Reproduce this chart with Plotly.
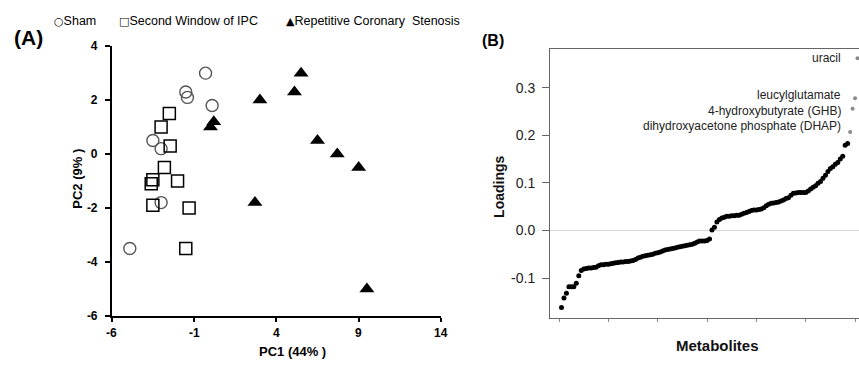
import plotly.graph_objects as go

# ---------------- Panel A data (PCA scores) ----------------
sham_pc1 = [-0.3, -1.5, -1.4, 0.1, -3.5, -3.0, -3.0, -4.9]
sham_pc2 = [3.0, 2.3, 2.1, 1.8, 0.5, 0.2, -1.8, -3.5]

ipc_pc1 = [-2.5, -3.0, -2.45, -2.8, -2.0, -3.5, -3.6, -3.5, -1.3, -1.5]
ipc_pc2 = [1.5, 1.0, 0.3, -0.5, -1.0, -0.95, -1.1, -1.9, -2.0, -3.5]

rcs_pc1 = [0.0, 0.2, 3.0, 5.5, 5.1, 6.5, 7.7, 9.0, 2.7, 9.5]
rcs_pc2 = [1.0, 1.2, 2.0, 3.0, 2.3, 0.5, 0.0, -0.5, -1.8, -5.0]

pcA_xticks = [-6, -1, 4, 9, 14]
pcA_xticklabels = ["-6", "-1", "4", "9", "14"]
pcA_yticks = [-6, -4, -2, 0, 2, 4]
pcA_yticklabels = ["-6", "-4", "-2", "0", "2", "4"]

# ---------------- Panel B data (sorted loadings) ----------------
loadings_black = [
    -0.162, -0.142, -0.132, -0.118, -0.118, -0.118, -0.111, -0.095, -0.084, -0.081,
    -0.080, -0.079, -0.079, -0.078, -0.077, -0.074, -0.072, -0.072, -0.071, -0.071,
    -0.070, -0.069, -0.068, -0.067, -0.066, -0.066, -0.065, -0.065, -0.064, -0.063,
    -0.061, -0.058, -0.056, -0.054, -0.053, -0.052, -0.051, -0.050, -0.048, -0.047,
    -0.045, -0.043, -0.041, -0.040, -0.039, -0.038, -0.037, -0.035, -0.034, -0.033,
    -0.032, -0.031, -0.030, -0.029, -0.027, -0.024, -0.022, -0.022, -0.022, -0.021,
    -0.018, 0.001, 0.007, 0.018, 0.023, 0.026, 0.028, 0.030, 0.030, 0.031,
    0.031, 0.032, 0.032, 0.034, 0.036, 0.038, 0.040, 0.042, 0.043, 0.043,
    0.044, 0.045, 0.048, 0.052, 0.055, 0.057, 0.058, 0.059, 0.060, 0.062,
    0.064, 0.067, 0.069, 0.074, 0.078, 0.079, 0.080, 0.080, 0.080, 0.080,
    0.083, 0.087, 0.091, 0.094, 0.099, 0.103, 0.110, 0.116, 0.124, 0.130,
    0.134, 0.139, 0.143, 0.150, 0.156, 0.179, 0.183,
]
labeled_names = ["dihydroxyacetone phosphate (DHAP)", "4-hydroxybutyrate (GHB)",
                 "leucylglutamate", "uracil"]
labeled_values = [0.207, 0.256, 0.278, 0.362]
label_text_y = [0.2186, 0.251, 0.2846, 0.362]

pcB_yticks = [-0.1, 0.0, 0.1, 0.2, 0.3]
pcB_yticklabels = ["-0.1", "0.0", "0.1", "0.2", "0.3"]
pcB_xticks = [0, 20, 40, 60, 80, 100, 120]

black_idx = list(range(1, len(loadings_black) + 1))
labeled_idx = list(range(len(loadings_black) + 1, len(loadings_black) + 1 + len(labeled_values)))

W, H = 859, 370
FONT = "Arial, Liberation Sans, sans-serif"

fig = go.Figure()

fig.add_trace(go.Scatter(x=sham_pc1, y=sham_pc2, mode="markers", xaxis="x", yaxis="y",
                         marker=dict(symbol="circle-open", size=12, color="#555",
                                     line=dict(width=1.4, color="#555")),
                         showlegend=False, cliponaxis=False))
fig.add_trace(go.Scatter(x=ipc_pc1, y=ipc_pc2, mode="markers", xaxis="x", yaxis="y",
                         marker=dict(symbol="square-open", size=12, color="#000",
                                     line=dict(width=1.5, color="#000")),
                         showlegend=False, cliponaxis=False))
fig.add_trace(go.Scatter(x=rcs_pc1, y=rcs_pc2, mode="markers", xaxis="x", yaxis="y",
                         marker=dict(symbol="triangle-up", size=13, color="#000",
                                     line=dict(width=0)),
                         showlegend=False, cliponaxis=False))

fig.add_trace(go.Scatter(x=black_idx, y=loadings_black, mode="markers", xaxis="x2", yaxis="y2",
                         marker=dict(symbol="circle", size=5, color="#000", line=dict(width=0)),
                         showlegend=False, cliponaxis=False))
fig.add_trace(go.Scatter(x=labeled_idx, y=labeled_values, mode="markers", xaxis="x2", yaxis="y2",
                         marker=dict(symbol="circle", size=4, color="#8a8a8a", line=dict(width=0)),
                         showlegend=False, cliponaxis=False))

def px(x):
    return x / W

def py(y):
    return 1 - y / H

annotations = []
# panel labels
annotations.append(dict(text="<b>(A)</b>", x=px(28.5), y=py(31.5), xref="paper", yref="paper",
                        showarrow=False, font=dict(family=FONT, size=21, color="#000"),
                        xanchor="center", yanchor="middle"))
annotations.append(dict(text="<b>(B)</b>", x=px(480), y=py(35), xref="paper", yref="paper",
                        showarrow=False, font=dict(family=FONT, size=16, color="#000"),
                        xanchor="left", yanchor="middle"))
# legend-like text
SYM = '<span style="font-family:DejaVu Sans;font-size:11px">{}</span>'
leg = [(SYM.format("○") + "Sham", 52),
       (SYM.format("□") + "Second Window of IPC", 117),
       (SYM.format("▲") + "Repetitive Coronary  Stenosis", 284)]
for t, x0 in leg:
    annotations.append(dict(text=t, x=px(x0), y=py(15), xref="paper", yref="paper",
                            showarrow=False, font=dict(family=FONT, size=12.5, color="#000"),
                            xanchor="left", yanchor="middle"))
# panel A x tick labels, placed on the x axis scale
for v, t in zip(pcA_xticks, pcA_xticklabels):
    annotations.append(dict(text="<b>" + t + "</b>", x=v, y=py(339), xref="x", yref="paper",
                            showarrow=False, font=dict(family=FONT, size=12, color="#000"),
                            xanchor="center", yanchor="middle"))
# axis titles
annotations.append(dict(text="<b>PC1 (44% )</b>", x=px(292), y=py(358), xref="paper", yref="paper",
                        showarrow=False, font=dict(family=FONT, size=13, color="#000"),
                        xanchor="center", yanchor="middle"))
annotations.append(dict(text="<b>PC2 (9% )</b>", x=px(77.5), y=py(179), xref="paper", yref="paper",
                        showarrow=False, textangle=-90, font=dict(family=FONT, size=13, color="#000"),
                        xanchor="center", yanchor="middle"))
annotations.append(dict(text="<b>Loadings</b>", x=px(499), y=py(187), xref="paper", yref="paper",
                        showarrow=False, textangle=-90, font=dict(family=FONT, size=14, color="#111"),
                        xanchor="center", yanchor="middle"))
annotations.append(dict(text="<b>Metabolites</b>", x=px(717), y=py(352), xref="paper", yref="paper",
                        showarrow=False, font=dict(family=FONT, size=15, color="#111"),
                        xanchor="center", yanchor="middle"))
# metabolite labels
for name, ly in zip(labeled_names, label_text_y):
    annotations.append(dict(text=name, x=115.3, y=ly, xref="x2", yref="y2",
                            showarrow=False, font=dict(family=FONT, size=12, color="#222"),
                            xanchor="right", yanchor="middle"))

x2_left = -3.66
x2_right = 121.6

fig.update_layout(
    width=W, height=H,
    margin=dict(l=0, r=0, t=0, b=0),
    paper_bgcolor="white", plot_bgcolor="white",
    font=dict(family=FONT),
    showlegend=False,
    annotations=annotations,
    xaxis=dict(domain=[px(111.7), px(441)], range=[-6, 14], tickmode="array",
               tickvals=pcA_xticks, showticklabels=False,
               showgrid=False, zeroline=False, showline=True, linecolor="#000", linewidth=1.5,
               ticks="outside", ticklen=4, tickwidth=1.5, tickcolor="#000",
               anchor="y"),
    yaxis=dict(domain=[py(321), py(40.7)], range=[-6, 4], tickmode="array",
               tickvals=pcA_yticks, ticktext=pcA_yticklabels,
               showgrid=False, zeroline=False, showline=True, linecolor="#000", linewidth=1.5,
               ticks="outside", ticklen=5, tickwidth=1.5, tickcolor="#000",
               tickfont=dict(family=FONT, size=12, color="#000", weight="bold"),
               anchor="x", ticklabelstandoff=5),
    xaxis2=dict(domain=[px(550), 1.0], range=[x2_left, x2_right], tickvals=pcB_xticks,
                showticklabels=False, showgrid=False, zeroline=False,
                showline=True, linecolor="#666", linewidth=1, mirror=True,
                ticks="outside", ticklen=3, tickcolor="#888", anchor="y2"),
    yaxis2=dict(domain=[py(323.3), py(43.3)], range=[-0.184, 0.382],
                tickvals=pcB_yticks, ticktext=pcB_yticklabels,
                showgrid=False, zeroline=True, zerolinecolor="#d9d9d9", zerolinewidth=1,
                showline=True, linecolor="#666", linewidth=1,
                ticks="outside", ticklen=7, tickcolor="#666",
                tickfont=dict(family=FONT, size=14, color="#222"), anchor="x2",
                ticklabelstandoff=4),
)

fig.write_html("out.html")
